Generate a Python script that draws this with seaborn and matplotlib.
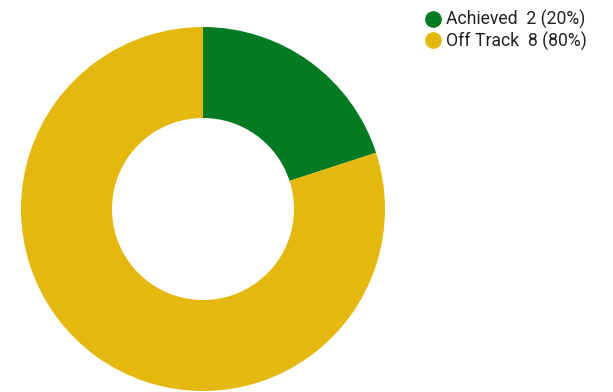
import matplotlib
matplotlib.use("Agg")
import matplotlib.pyplot as plt
from matplotlib.lines import Line2D
import seaborn as sns

categories = ["Achieved", "Off Track"]
counts = [2, 8]
colors = ["#047a23", "#e4b80f"]

sns.set_theme(style="white")
plt.rcParams["font.family"] = ["Roboto", "DejaVu Sans"]

W, H = 613, 392
fig = plt.figure(figsize=(W / 100, H / 100), dpi=100)
fig.patch.set_facecolor("white")

cx, cy, r = 203, 209, 182
ax = fig.add_axes([(cx - r) / W, (H - cy - r) / H, 2 * r / W, 2 * r / H])
ax.pie(counts, colors=colors, startangle=90, counterclock=False,
       radius=1.0, wedgeprops=dict(width=0.5, edgecolor="none", linewidth=0))
ax.set_xlim(-1, 1)
ax.set_ylim(-1, 1)
ax.set_aspect("equal")
ax.axis("off")

total = sum(counts)
labels = [f"{c}  {n} ({n / total:.0%})" for c, n in zip(categories, counts)]
handles = [Line2D([], [], marker="o", linestyle="none", markersize=11,
                  markerfacecolor=col, markeredgecolor=col) for col in colors]
fig.legend(handles, labels, loc="upper left",
           bbox_to_anchor=(415 / W, 1 - 1.5 / H), frameon=False,
           fontsize=12.7, labelcolor="#222222", handletextpad=0.25,
           labelspacing=0.12, borderpad=0, handlelength=1.0)

fig.savefig("out.png", dpi=100)
